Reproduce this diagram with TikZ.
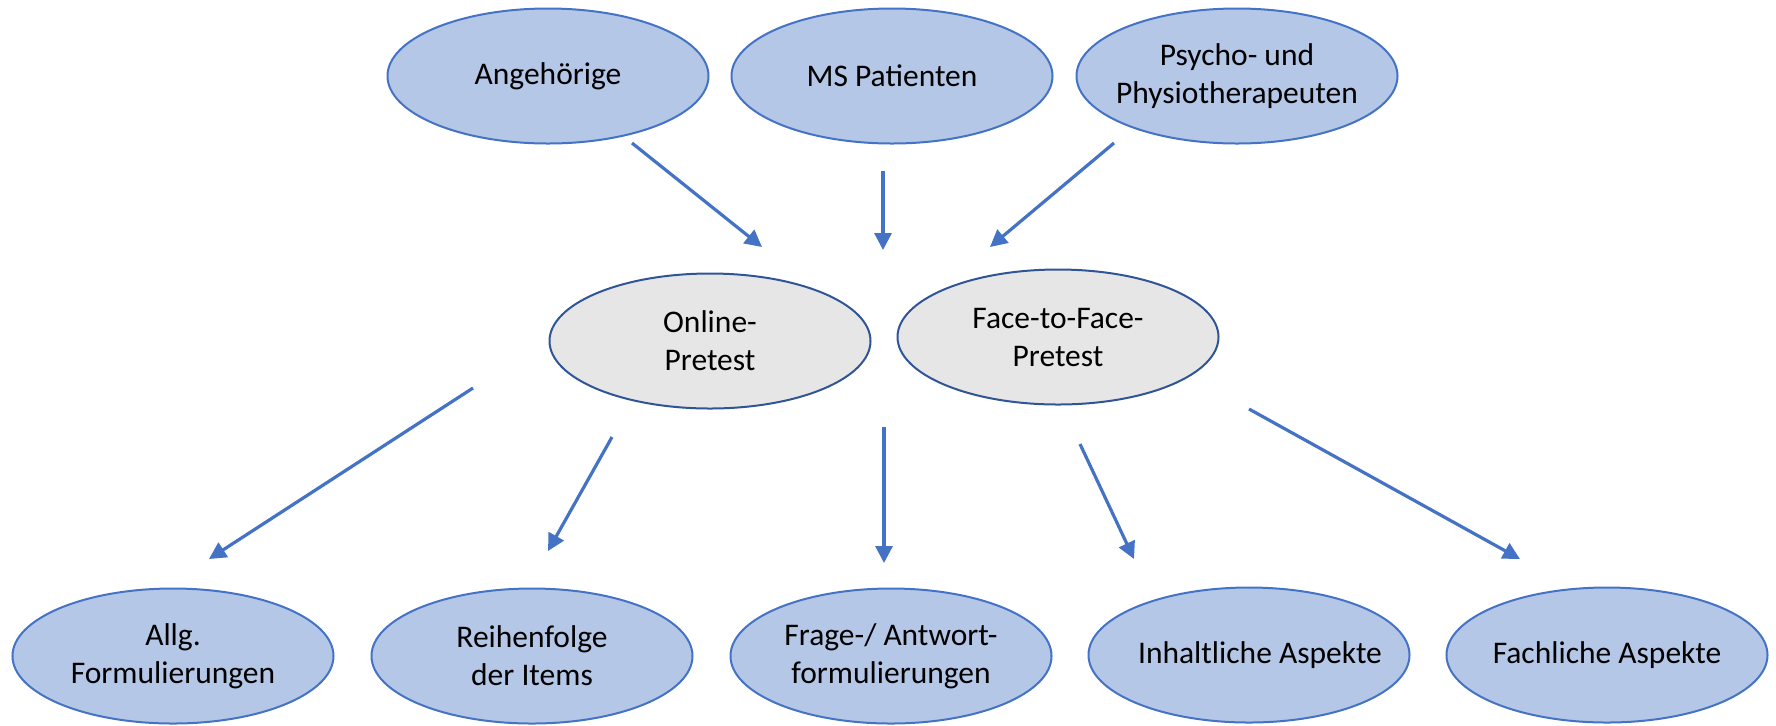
\documentclass[tikz,border=0pt]{standalone}
\usepackage{fontspec}
\setmainfont{Carlito}
\usetikzlibrary{shapes.geometric,arrows.meta}
\definecolor{ovalblue}{HTML}{B4C7E7}
\definecolor{lineblue}{HTML}{4472C4}
\definecolor{ovalgray}{HTML}{E7E6E6}
\definecolor{darkline}{HTML}{2F5597}
\begin{document}
\begin{tikzpicture}[x=0.5pt,y=-0.5pt,>={Triangle[length=8.5pt,width=8.5pt]},
    group/.style={ellipse,draw=lineblue,fill=ovalblue,line width=1pt,
      minimum width=160.5pt,minimum height=67.5pt,inner xsep=-25pt,
      inner ysep=0pt,align=center,
      font=\fontsize{15.75pt}{19pt}\selectfont},
    pretest/.style={group,draw=darkline,fill=ovalgray},
    flow/.style={->,draw=lineblue,line width=1.6pt}]
  \useasboundingbox (0,0) rectangle (1776,725);
  % top row
  \node[group] (ang) at (548,76) {Angehörige};
  \node[group] (ms) at (892,76) {MS Patienten};
  \node[group] (psy) at (1237,76) {Psycho- und\\Physiotherapeuten};
  % pretests
  \node[pretest] (onl) at (710,341) {Online-\\Pretest};
  \node[pretest] (f2f) at (1058,337) {Face-to-Face-\\Pretest};
  % results
  \node[group] (allg) at (173,656) {Allg.\\Formulierungen};
  \node[group] (reih) at (532,656) {Reihenfolge\\der Items};
  \node[group] (frage) at (891,656) {Frage-/ Antwort-\\formulierungen};
  \node[group] (inh) at (1249,655) {\hspace*{11pt}Inhaltliche Aspekte};
  \node[group] (fach) at (1607,655) {Fachliche Aspekte};
  % arrow ends
  \coordinate (angOut) at (632,143);
  \coordinate (msOut) at (883,171);
  \coordinate (psyOut) at (1114,143);
  \coordinate (angIn) at (762,247);
  \coordinate (msIn) at (883,250);
  \coordinate (psyIn) at (990,247);
  \coordinate (allgOut) at (473,388);
  \coordinate (reihOut) at (612,437);
  \coordinate (frageOut) at (884,427);
  \coordinate (inhOut) at (1080,444);
  \coordinate (fachOut) at (1249,409);
  \coordinate (allgIn) at (209,559);
  \coordinate (reihIn) at (548,551);
  \coordinate (frageIn) at (884,563);
  \coordinate (inhIn) at (1134,559);
  \coordinate (fachIn) at (1520,559);
  \draw[flow] (angOut) -- (angIn);
  \draw[flow] (msOut) -- (msIn);
  \draw[flow] (psyOut) -- (psyIn);
  \draw[flow] (allgOut) -- (allgIn);
  \draw[flow] (reihOut) -- (reihIn);
  \draw[flow] (frageOut) -- (frageIn);
  \draw[flow] (inhOut) -- (inhIn);
  \draw[flow] (fachOut) -- (fachIn);
\end{tikzpicture}
\end{document}
